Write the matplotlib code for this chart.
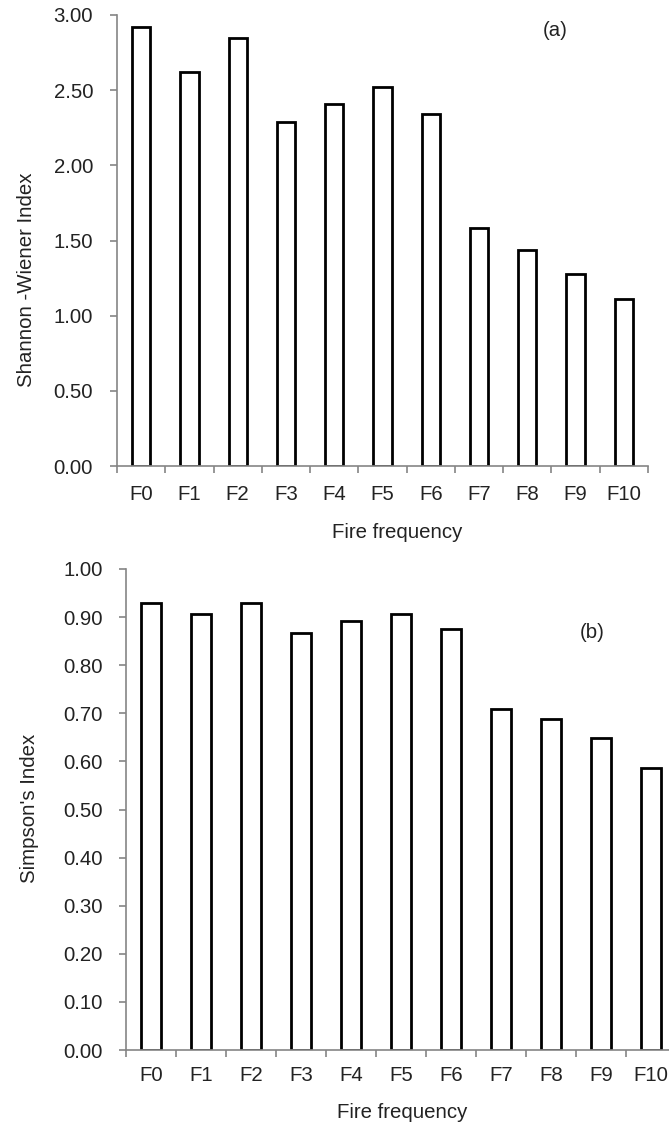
import matplotlib
matplotlib.use("Agg")
import matplotlib.pyplot as plt
import numpy as np

plt.rcParams['font.family'] = ['Liberation Sans', 'DejaVu Sans']

categories = ["F0", "F1", "F2", "F3", "F4", "F5", "F6", "F7", "F8", "F9", "F10"]
shannon = [2.92, 2.62, 2.85, 2.29, 2.41, 2.52, 2.34, 1.58, 1.44, 1.28, 1.11]
simpson = [0.930, 0.906, 0.929, 0.867, 0.892, 0.907, 0.875, 0.708, 0.689, 0.648, 0.587]
shannon_ticks = [0.0, 0.5, 1.0, 1.5, 2.0, 2.5, 3.0]
simpson_ticks = [0.0, 0.1, 0.2, 0.3, 0.4, 0.5, 0.6, 0.7, 0.8, 0.9, 1.0]

W, H = 669, 1124
DPI = 100
FS = 14.7
TXT = '#222222'
SPINE = '#858585'

fig = plt.figure(figsize=(W / DPI, H / DPI), dpi=DPI)

def fx(px):
    return px / W

def fy(py):
    return 1 - py / H

def make_axes(left, right, top, bottom):
    return fig.add_axes([fx(left), fy(bottom), fx(right) - fx(left), fy(top) - fy(bottom)])

def style(ax, values, ticks, ymax, width, ypad, xpad):
    x = np.arange(len(categories))
    ax.bar(x, values, width=width, color='white', edgecolor='black', linewidth=2.0, zorder=2)
    ax.set_xlim(-0.5, len(categories) - 0.5)
    ax.set_ylim(0, ymax)
    for s in ['top', 'right']:
        ax.spines[s].set_visible(False)
    for s in ['left', 'bottom']:
        ax.spines[s].set_color(SPINE)
        ax.spines[s].set_linewidth(1.2)
        ax.spines[s].set_zorder(3)
    ax.set_yticks(ticks)
    ax.set_yticklabels([f"{t:.2f}" for t in ticks])
    ax.set_xticks(np.arange(len(categories) + 1) - 0.5)
    ax.set_xticklabels([])
    ax.set_xticks(x, minor=True)
    ax.set_xticklabels(categories, minor=True)
    ax.tick_params(axis='y', direction='out', length=5, width=1.2, color=SPINE,
                   labelsize=FS, labelcolor=TXT, pad=ypad)
    ax.tick_params(axis='x', which='major', direction='out', length=5, width=1.2, color=SPINE)
    ax.tick_params(axis='x', which='minor', length=0, labelsize=FS, labelcolor=TXT, pad=xpad)

ax1 = make_axes(117, 648, 15, 466)
style(ax1, shannon, shannon_ticks, 3.0, 0.38, 12.2, 14.0)

ax2 = make_axes(126, 676, 569, 1050)
style(ax2, simpson, simpson_ticks, 1.0, 0.41, 11.5, 11.5)

fig.text(fx(397), fy(538), "Fire frequency", ha='center', va='baseline', fontsize=FS, color=TXT)
fig.text(fx(402), fy(1118), "Fire frequency", ha='center', va='baseline', fontsize=FS, color=TXT)
fig.text(fx(27), fy(280), "Shannon -Wiener Index", ha='center', va='center', rotation=90,
         fontsize=FS, color=TXT)
fig.text(fx(30), fy(808), "Simpson's Index", ha='center', va='center', rotation=90,
         fontsize=FS, color=TXT)
fig.text(fx(555), fy(30), "(a)", ha='center', va='center', fontsize=FS, color=TXT)
fig.text(fx(592), fy(632), "(b)", ha='center', va='center', fontsize=FS, color=TXT)

fig.savefig("out.png", dpi=DPI)
